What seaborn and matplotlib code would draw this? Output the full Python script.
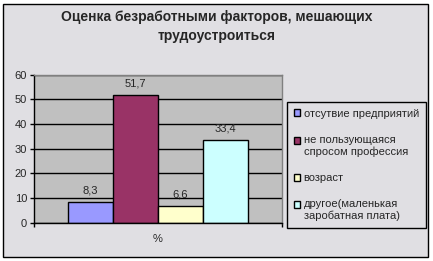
import matplotlib
matplotlib.use('Agg')
import matplotlib.pyplot as plt
import seaborn as sns
import pandas as pd
from matplotlib.patches import Rectangle
from matplotlib.legend_handler import HandlerPatch

title = "Оценка безработными факторов, мешающих\nтрудоустроиться"
category = ["%"]
series_labels = ["отсутвие предприятий",
                 "не пользующаяся\nспросом профессия",
                 "возраст",
                 "другое(маленькая\nзаробатная плата)"]
values = [8.3, 51.7, 6.6, 33.4]
colors = ["#9999FF", "#993366", "#FFFFCC", "#CCFFFF"]
yticks = [0, 10, 20, 30, 40, 50, 60]

sns.set_style("white")
plt.rcParams['font.family'] = ['Liberation Sans', 'DejaVu Sans']

df = pd.DataFrame({"cat": category * len(values), "series": series_labels, "value": values})

W, H = 433, 261
fig = plt.figure(figsize=(W / 100, H / 100), dpi=100)
fig.patch.set_facecolor('white')
fig.patches.append(Rectangle((3 / W, 4 / H), 425 / W, 253 / H, transform=fig.transFigure,
                             facecolor='#E0DFE3', edgecolor='black', lw=1, zorder=-10))

ax = fig.add_axes([34 / W, (H - 222.7) / H, 248 / W, 148 / H])
sns.barplot(data=df, x="cat", y="value", hue="series", hue_order=series_labels,
            palette=colors, width=0.726, edgecolor='black', linewidth=1, ax=ax,
            saturation=1, legend=True)
ax.set_facecolor('#C0C0C0')
ax.set_xlim(-0.5, 0.5)
ax.set_ylim(0, 60)
ax.set_yticks(yticks)
ax.set_xlabel("")
ax.set_ylabel("")
ax.yaxis.grid(True, color='black', lw=1)
ax.set_axisbelow(True)
for s in ['top', 'right']:
    ax.spines[s].set_color('#808080')
    ax.spines[s].set_linewidth(1)
for s in ['left', 'bottom']:
    ax.spines[s].set_color('black')
    ax.spines[s].set_linewidth(1)
ax.tick_params(axis='y', which='major', left=True, length=3, width=1, color='black',
               labelsize=8, pad=2)
ax.tick_params(axis='x', which='major', length=0, labelsize=8, pad=8)
ax.set_xticks([-0.5, 0.5], minor=True)
ax.tick_params(axis='x', which='minor', bottom=True, length=3, width=1, color='black')

for cont, v in zip(ax.containers, values):
    ax.bar_label(cont, labels=[f"{v:.1f}".replace('.', ',')], padding=5, fontsize=8)


def make_shift(dy):
    def f(legend, orig_handle, xdescent, ydescent, width, height, fontsize):
        return Rectangle((-xdescent, -ydescent + dy), width, height)
    return HandlerPatch(patch_func=f)


handles, labels = ax.get_legend_handles_labels()
ax.get_legend().remove()
hmap = {h: make_shift(4.0 if '\n' in l else 0.0) for h, l in zip(handles, labels)}
leg = ax.legend(handles, labels, loc='upper left', bbox_to_anchor=(287 / W, 1 - 102 / H),
                bbox_transform=fig.transFigure, frameon=True, fancybox=False,
                edgecolor='black', facecolor='#E0DFE3', framealpha=1, fontsize=8,
                handlelength=0.6, handleheight=0.6, handletextpad=0.3,
                borderpad=0.6, labelspacing=1.45, borderaxespad=0, handler_map=hmap)
leg.get_frame().set_linewidth(1)

fig.text(216.5 / W, 1 - 26.5 / H, title, ha='center', va='center', fontsize=10,
         fontweight='bold', linespacing=1.45)

fig.savefig("out.png", dpi=100)
